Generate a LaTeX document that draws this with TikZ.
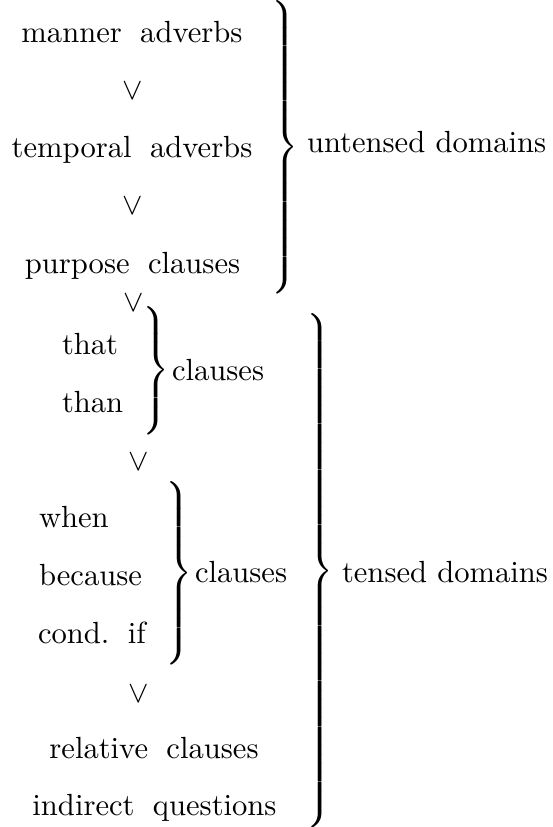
\documentclass[tikz,border=0pt]{standalone}
\newcommand{\wsp}{\hspace{6pt}}
\newcommand{\bracebox}[1]{$\delimiterfactor=1000\delimitershortfall=0pt\left.\vrule height\dimexpr#1/2+2.5pt\relax depth\dimexpr#1/2-2.5pt\relax width0pt\right\}$}
\begin{document}
\begin{tikzpicture}[x=0.3268pt,y=-0.3268pt,
  lbl/.style={inner sep=0pt,outer sep=0pt,font=\fontsize{10}{12}\selectfont},
  brc/.style={inner sep=0pt,outer sep=0pt,anchor=west}]
\useasboundingbox (0,0) rectangle (552,827);
% untensed block
\node[lbl,anchor=base] (manner) at (132,42.7) {manner\wsp adverbs};
\node[lbl,anchor=base] (v1) at (132.5,100) {$\vee$};
\node[lbl,anchor=base] (temporal) at (132,157.7) {temporal\wsp adverbs};
\node[lbl,anchor=base] (v2) at (132.5,215) {$\vee$};
\node[lbl,anchor=base] (purpose) at (132.5,273) {purpose\wsp clauses};
\node[brc] (b1) at (268,147) {\bracebox{91.5pt}};
\node[lbl,anchor=base west] (untensed) at (307,153) {untensed domains};
\node[lbl,anchor=base] (v3) at (134,312) {$\vee$};
% that / than
\node[lbl,anchor=base west] (that) at (62,354) {that};
\node[lbl,anchor=base west] (than) at (62,412) {than};
\node[brc] (b2) at (139,370.5) {\bracebox{37.6pt}};
\node[lbl,anchor=base west] (cl1) at (172,380) {clauses};
\node[lbl,anchor=base] (v4) at (138.5,470) {$\vee$};
% when / because / cond. if
\node[lbl,anchor=base west] (when) at (39,527) {when};
\node[lbl,anchor=base west] (because) at (39,585) {because};
\node[lbl,anchor=base west] (condif) at (38,643) {cond.\wsp if};
\node[brc] (b3) at (162,573) {\bracebox{56.2pt}};
\node[lbl,anchor=base west] (cl2) at (195,582) {clauses};
\node[lbl,anchor=base] (v5) at (138.5,702) {$\vee$};
\node[lbl,anchor=base] (relative) at (154,758) {relative\wsp clauses};
\node[lbl,anchor=base] (indirect) at (154.5,815) {indirect\wsp questions};
% tensed brace
\node[brc] (b4) at (303,571) {\bracebox{166pt}};
\node[lbl,anchor=base west] (tensed) at (342,582) {tensed domains};
\end{tikzpicture}
\end{document}
